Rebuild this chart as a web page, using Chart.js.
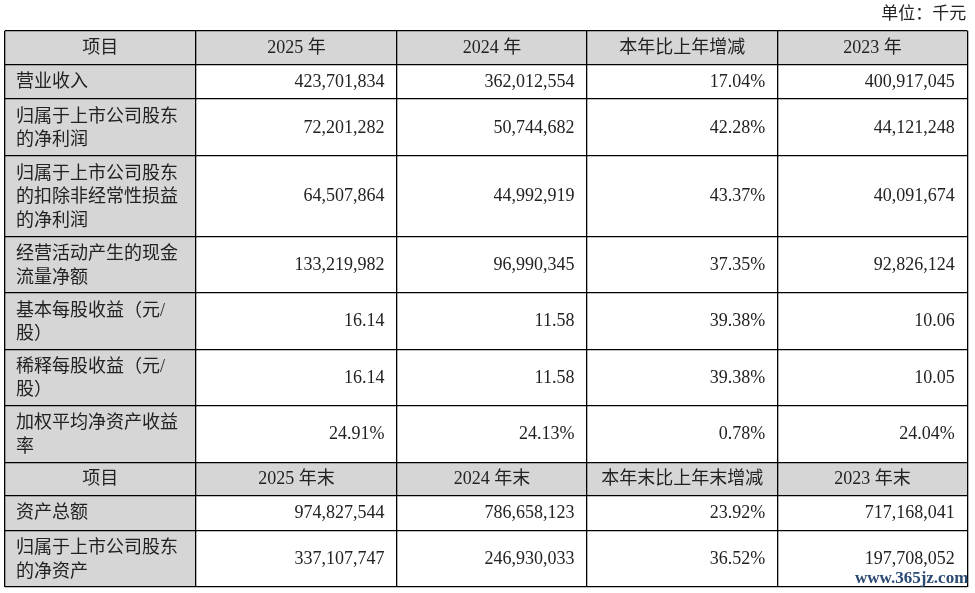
<!DOCTYPE html>
<html>
<head>
<meta charset="utf-8">
<script src="https://cdn.jsdelivr.net/npm/chart.js@4.4.1/dist/chart.umd.min.js"></script>
<style>
html, body { margin: 0; padding: 0; background: #fff; }
</style>
</head>
<body>
<canvas id="myChart" width="975" height="593"></canvas>
<script>
// table content
var unitText = '单位：千元';
var siteText = 'www.365jz.com';

var head1 = ['项目', '2025 年', '2024 年', '本年比上年增减', '2023 年'];
var items1 = [
    ['营业收入'],
    ['归属于上市公司股东', '的净利润'],
    ['归属于上市公司股东', '的扣除非经常性损益', '的净利润'],
    ['经营活动产生的现金', '流量净额'],
    ['基本每股收益（元/', '股）'],
    ['稀释每股收益（元/', '股）'],
    ['加权平均净资产收益', '率']
];
var y2025 = [423701834, 72201282, 64507864, 133219982, 16.14, 16.14, 24.91];
var y2024 = [362012554, 50744682, 44992919, 96990345, 11.58, 11.58, 24.13];
var yoy1  = [17.04, 42.28, 43.37, 37.35, 39.38, 39.38, 0.78];
var y2023 = [400917045, 44121248, 40091674, 92826124, 10.06, 10.05, 24.04];
var kind1 = ['int', 'int', 'int', 'int', 'dec', 'dec', 'pct'];

var head2 = ['项目', '2025 年末', '2024 年末', '本年末比上年末增减', '2023 年末'];
var items2 = [
    ['资产总额'],
    ['归属于上市公司股东', '的净资产']
];
var end2025 = [974827544, 337107747];
var end2024 = [786658123, 246930033];
var yoy2    = [23.92, 36.52];
var end2023 = [717168041, 197708052];
var kind2 = ['int', 'int'];

// layout
var colW = [191.5, 201, 190, 191, 189.5];
var headH = 33.5;
var lineH = {1: 35, 2: 56.5, 3: 81};
var FONT = '18px "Liberation Serif", "Noto Sans CJK SC", serif';
var INK = '#222';
var GRAY = '#d6d6d6';

function fmt(v, k) {
    if (k == 'int') return v.toLocaleString('en-US');
    if (k == 'dec') return v.toFixed(2);
    return v.toFixed(2) + '%';
}

var rows = [];
function addBlock(head, items, cols, yoy, kinds) {
    rows.push({head: true, cells: head, h: headH});
    items.forEach(function (lab, i) {
        rows.push({
            head: false,
            label: lab,
            cells: [fmt(cols[0][i], kinds[i]), fmt(cols[1][i], kinds[i]), fmt(yoy[i], 'pct'), fmt(cols[2][i], kinds[i])],
            h: lineH[lab.length]
        });
    });
}
addBlock(head1, items1, [y2025, y2024, y2023], yoy1, kind1);
addBlock(head2, items2, [end2025, end2024, end2023], yoy2, kind2);

var colEdges = [0];
colW.forEach(function (w) { colEdges.push(colEdges[colEdges.length - 1] + w); });
var rowEdges = [0];
rows.forEach(function (r) { rowEdges.push(rowEdges[rowEdges.length - 1] + r.h); });
var totalW = colEdges[colEdges.length - 1];
var totalH = rowEdges[rowEdges.length - 1];

// one invisible point per cell, text drawn at the point
var points = [];
rows.forEach(function (r, ri) {
    var yc = (rowEdges[ri] + rowEdges[ri + 1]) / 2;
    if (r.head) {
        r.cells.forEach(function (t, ci) {
            points.push({x: (colEdges[ci] + colEdges[ci + 1]) / 2, y: yc, text: [t], align: 'center'});
        });
    } else {
        points.push({x: colEdges[0] + 11.5, y: yc, text: r.label, align: 'left'});
        r.cells.forEach(function (t, ci) {
            points.push({x: colEdges[ci + 2] - 12.5, y: yc, text: [t], align: 'right'});
        });
    }
});

var cellFill = {
    id: 'cellFill',
    beforeDraw: function (chart) {
        var ctx = chart.ctx, sx = chart.scales.x, sy = chart.scales.y;
        ctx.save();
        ctx.fillStyle = GRAY;
        rows.forEach(function (r, ri) {
            var top = sy.getPixelForValue(rowEdges[ri]);
            var bot = sy.getPixelForValue(rowEdges[ri + 1]);
            var right = sx.getPixelForValue(r.head ? totalW : colEdges[1]);
            var left = sx.getPixelForValue(0);
            ctx.fillRect(left, top, right - left, bot - top);
        });
        ctx.restore();
    }
};

var cellText = {
    id: 'cellText',
    afterDatasetsDraw: function (chart) {
        var ctx = chart.ctx;
        var meta = chart.getDatasetMeta(0);
        ctx.save();
        ctx.font = FONT;
        ctx.fillStyle = INK;
        ctx.textBaseline = 'middle';
        meta.data.forEach(function (el, i) {
            var p = points[i];
            ctx.textAlign = p.align;
            var n = p.text.length;
            p.text.forEach(function (line, li) {
                var dy = n > 1 ? (li - (n - 1) / 2) * 23.5 + 1.5 : 0.5;
                ctx.fillText(line, el.x, el.y + dy);
            });
        });
        ctx.restore();
    },
    afterDraw: function (chart) {
        var ctx = chart.ctx, a = chart.chartArea;
        ctx.save();
        ctx.font = '17px "Liberation Serif", "Noto Sans CJK SC", serif';
        ctx.fillStyle = INK;
        ctx.textAlign = 'right';
        ctx.textBaseline = 'middle';
        ctx.fillText(unitText, a.right - 1, a.top - 16);
        ctx.font = 'bold 17px "Liberation Serif", serif';
        ctx.fillStyle = '#2c4a72';
        ctx.fillText(siteText, a.right + 1, a.bottom - 8);
        ctx.restore();
    }
};

function edgeTicks(edges) {
    return function (scale) {
        scale.ticks = edges.map(function (v) { return {value: v}; });
    };
}

var ctx = document.getElementById('myChart').getContext('2d');
var myChart = new Chart(ctx, {
    type: 'scatter',
    data: {
        datasets: [{
            data: points,
            pointRadius: 0,
            pointHoverRadius: 0
        }]
    },
    options: {
        responsive: false,
        animation: false,
        events: [],
        layout: {
            padding: {left: 4.5, right: 7.7, top: 30.7, bottom: 6}
        },
        plugins: {
            legend: {display: false},
            tooltip: {enabled: false}
        },
        scales: {
            x: {
                type: 'linear',
                min: 0,
                max: totalW,
                afterBuildTicks: edgeTicks(colEdges),
                ticks: {display: false},
                grid: {color: '#000', lineWidth: 1.3, drawTicks: false},
                border: {display: false}
            },
            y: {
                type: 'linear',
                reverse: true,
                min: 0,
                max: totalH,
                afterBuildTicks: edgeTicks(rowEdges),
                ticks: {display: false},
                grid: {color: '#000', lineWidth: 1.3, drawTicks: false},
                border: {display: false}
            }
        }
    },
    plugins: [cellFill, cellText]
});
</script>
</body>
</html>
